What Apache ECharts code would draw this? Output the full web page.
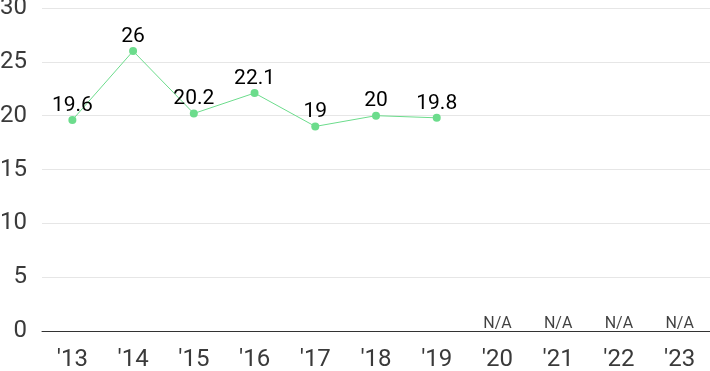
<!DOCTYPE html>
<html><head><meta charset="utf-8">
<script src="https://cdn.jsdelivr.net/npm/echarts@6/dist/echarts.min.js"></script>
<style>html,body{margin:0;padding:0;background:#fff}#c{width:710px;height:371px}</style>
</head><body><div id="c"></div>
<script>
const categories = ["'13","'14","'15","'16","'17","'18","'19","'20","'21","'22","'23"];
const values = [19.6, 26, 20.2, 22.1, 19, 20, 19.8, null, null, null, null];
const naLabel = 'N/A';
const yTicks = [0, 5, 10, 15, 20, 25, 30];

const naData = values.map(v => v === null ? 0 : null);
const FONT = 'Roboto';
const chart = echarts.init(document.getElementById('c'));
chart.setOption({
  animation: false,
  textStyle: { fontFamily: FONT },
  grid: { left: 42, right: 0, top: 8, bottom: 40, containLabel: false, outerBoundsMode: 'none' },
  xAxis: {
    type: 'category', data: categories, boundaryGap: true,
    axisLine: { lineStyle: { color: '#333', width: 1 } },
    axisTick: { show: false },
    axisLabel: { color: '#3a3a3a', fontSize: 24, fontFamily: FONT, margin: 17 }
  },
  yAxis: {
    type: 'value', min: yTicks[0], max: yTicks[yTicks.length-1], interval: 5,
    axisLine: { show: false }, axisTick: { show: false },
    splitLine: { lineStyle: { color: '#e6e6e6' } },
    axisLabel: { color: '#3a3a3a', fontSize: 24, fontFamily: FONT, margin: 15, padding: [6, 0, 0, 0] }
  },
  series: [
    {
      type: 'line', data: values, connectNulls: false,
      symbol: 'circle', symbolSize: 8,
      itemStyle: { color: '#6cdc8c' },
      lineStyle: { color: '#6cdc8c', width: 1 },
      label: { show: true, position: 'top', distance: 0, color: '#000', fontSize: 21, fontFamily: FONT }
    },
    {
      type: 'scatter', data: naData, symbolSize: 0, silent: true,
      label: { show: true, position: 'top', distance: -1, formatter: naLabel, color: '#111', fontSize: 16, fontFamily: FONT }
    }
  ]
});
</script></body></html>
